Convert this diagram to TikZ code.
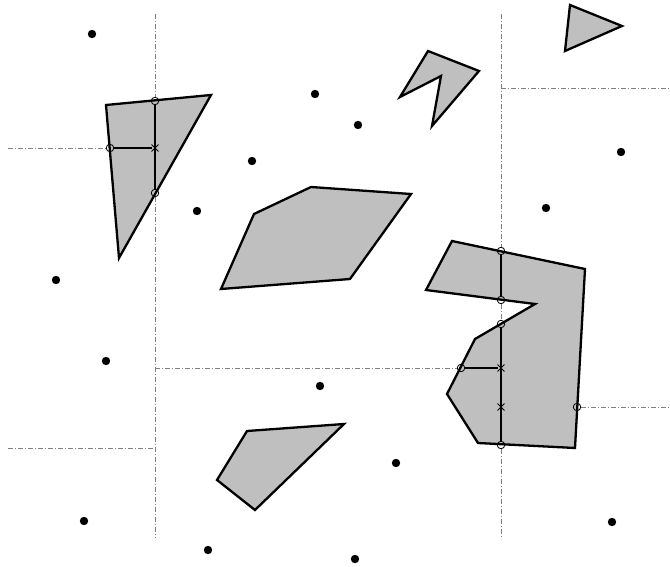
\documentclass[tikz,border=0pt]{standalone}
\usepackage{tikz}
\usetikzlibrary{shapes.misc}

\definecolor{obst}{gray}{0.75}
\tikzset{
  obstacle/.style={draw=black,fill=obst,line width=2.3pt,line join=miter},
  sweep/.style={gray,line width=0.6pt,dash pattern=on 5pt off 2pt on 1pt off 2pt},
  seg/.style={black,line width=1.2pt},
  hit/.style={circle,draw,line width=0.8pt,inner sep=0pt,minimum size=7.5pt},
  mid/.style={cross out,draw,line width=0.9pt,inner sep=0pt,minimum size=6pt},
}

\begin{document}
\begin{tikzpicture}[x=1pt,y=-1pt]
  \useasboundingbox (0,0) rectangle (670,567);
  % obstacles
  \draw[obstacle] (106,105) -- (211,95) -- (119,258) -- cycle;
  \draw[obstacle] (570,5) -- (622,26) -- (565,51) -- cycle;
  \draw[obstacle] (428,51) -- (479,71) -- (432,126) -- (441,76) -- (400,97) -- cycle;
  \draw[obstacle] (221,289) -- (254,214) -- (311,187) -- (411,194) -- (350,279) -- cycle;
  \draw[obstacle] (247,431) -- (344,424) -- (255,510) -- (217,480) -- cycle;
  \draw[obstacle] (452,241) -- (585,269) -- (575,448) -- (478,443) -- (447,394)
       -- (475,339) -- (535,304) -- (426,290) -- cycle;
  % sample points
  \foreach \px/\py in {92/34, 315/94, 358/125, 252/161, 621/152, 197/211,
      546/208, 56/280, 106/361, 320/386, 396/463, 84/521, 612/522,
      208/550, 355/559}
    \fill (\px,\py) circle[radius=4.2pt];
  % left column
  \coordinate (lt) at (155,14);
  \coordinate (lb) at (155,538);
  \node[hit] (la) at (155,101) {};
  \node[mid] (lx) at (155,148) {};
  \node[hit] (lc) at (155,193) {};
  \node[hit] (lw) at (110,148) {};
  \coordinate (lwend) at (8,148);
  \draw[sweep] (lt) -- (la);
  \draw[sweep] (lc) -- (lb);
  \draw[seg] (la) -- (lc);
  \draw[sweep] (lwend) -- (lw);
  \draw[seg] (lw) -- (lx);
  % right column
  \coordinate (rt) at (501,14);
  \coordinate (rb) at (501,538);
  \node[hit] (ra) at (501,251) {};
  \node[hit] (rb1) at (501,300) {};
  \node[hit] (rc) at (501,324) {};
  \node[mid] (rx1) at (501,368) {};
  \node[mid] (rx2) at (501,407) {};
  \node[hit] (rd) at (501,445) {};
  \node[hit] (rw) at (461,368) {};
  \node[hit] (re) at (577,407) {};
  \draw[sweep] (rt) -- (ra);
  \draw[seg] (ra) -- (rb1);
  \draw[sweep] (rb1) -- (rc);
  \draw[seg] (rc) -- (rd);
  \draw[sweep] (rd) -- (rb);
  \coordinate (mwend) at (155,368);
  \draw[sweep] (mwend) -- (rw);
  \draw[seg] (rw) -- (rx1);
  \coordinate (reend) at (670,407);
  \draw[sweep] (re) -- (reend);
  % other sweep lines
  \coordinate (tr0) at (501,88);
  \coordinate (tr1) at (670,88);
  \draw[sweep] (tr0) -- (tr1);
  \coordinate (bl0) at (8,448);
  \coordinate (bl1) at (155,448);
  \draw[sweep] (bl0) -- (bl1);
\end{tikzpicture}
\end{document}
